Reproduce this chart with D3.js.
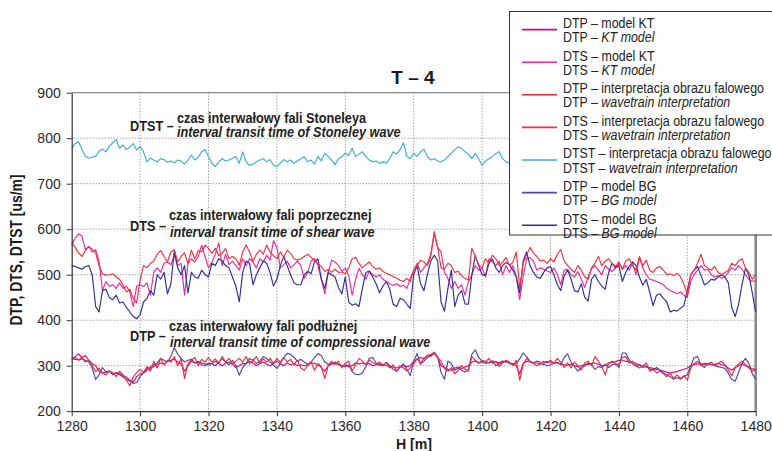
<!DOCTYPE html>
<html><head><meta charset="utf-8">
<script src="https://cdn.jsdelivr.net/npm/d3@7"></script>
<style>
body{margin:0;background:#fff}
svg{display:block}
text{font-family:"Liberation Sans",Arial,Helvetica,sans-serif}
</style>
</head><body>
<svg id="chart" width="772" height="451"></svg>
<script>
// ---------------- DATA ----------------
const depthStart = 1280;           // H [m] of first sample
const depthStep = 1;               // sampling step [m]
const xTicks = [1280,1300,1320,1340,1360,1380,1400,1420,1440,1460,1480];
const yTicks = [200,300,400,500,600,700,800,900];

const dtsKT = [
565,580,590,585,555,562,550,555,530,465,
485,474,478,470,482,470,475,462,430,475,
478,474,482,455,505,515,505,525,528,522,
543,520,525,455,525,535,528,540,565,540,
515,528,545,570,520,545,522,530,520,510,
535,520,535,528,515,535,528,543,532,575,
560,515,522,530,515,522,530,520,492,505,
530,536,520,490,458,505,532,528,520,508,
514,498,455,490,514,500,490,508,500,495,
500,490,485,480,477,480,474,477,470,492,
510,525,505,515,525,545,590,560,550,505,
492,470,485,470,478,455,485,499,520,510,
514,495,535,528,520,530,500,520,505,520,
495,445,495,535,538,530,510,515,512,508,
505,515,500,478,510,512,500,495,507,490,
472,495,513,520,510,500,520,512,507,515,
525,512,520,510,525,500,538,515,500,490,
488,485,482,478,470,465,462,458,462,455,
450,485,500,510,520,510,512,500,495,498,
492,495,505,515,510,520,512,500,490,485,
488];

const dtsWave = [
572,560,548,540,553,562,556,548,520,502,
499,500,502,495,490,478,462,468,448,438,
488,520,515,525,530,545,553,540,528,550,
555,528,540,548,525,554,535,553,550,565,
558,547,558,542,547,558,535,540,535,521,
550,565,550,530,545,554,545,565,550,542,
535,550,538,554,547,535,532,535,540,545,
538,530,525,518,507,512,505,512,505,506,
502,515,535,538,525,515,522,528,518,512,
515,507,503,500,496,492,488,485,492,485,
510,520,532,528,520,540,595,560,515,512,
525,520,505,508,498,492,488,558,540,522,
515,535,525,543,535,520,527,538,520,527,
550,470,525,543,560,548,540,530,532,525,
535,528,545,555,530,520,512,505,520,510,
495,490,515,525,540,520,530,535,525,518,
528,512,530,535,520,510,540,520,532,510,
505,515,518,510,500,502,498,503,495,480,
455,500,510,525,545,520,515,510,518,505,
500,505,510,525,520,530,535,515,505,490,
500];

const dtsBG = [
520,518,515,512,518,520,500,430,418,465,
468,450,445,455,438,440,428,418,408,403,
412,440,448,465,455,500,490,505,458,480,
552,515,500,520,460,505,495,492,510,500,
495,525,520,535,530,520,515,495,475,440,
505,530,525,478,500,515,530,525,505,475,
490,520,540,520,500,482,478,478,500,507,
502,528,535,490,470,505,500,495,472,458,
495,440,433,436,430,470,505,508,495,480,
460,475,485,468,435,430,448,445,435,426,
500,520,480,465,500,530,543,530,440,420,
470,510,430,455,465,436,435,500,542,520,
500,498,525,535,515,505,520,527,522,510,
495,460,530,550,520,505,495,492,505,515,
518,500,478,465,497,510,490,465,462,480,
450,442,490,500,485,475,468,505,525,515,
520,485,505,518,528,520,495,477,490,462,
432,455,458,448,440,418,422,420,426,432,
465,500,510,518,498,478,482,490,488,495,
500,495,482,428,408,435,478,514,500,460,
418];

const dtpKT = [
314,320,326,318,322,312,305,300,288,284,
286,288,281,285,283,278,275,268,264,276,
282,284,290,294,298,302,306,304,310,312,
314,308,304,288,300,310,306,307,302,300,
306,304,310,305,300,306,308,303,296,300,
305,304,310,306,300,305,308,303,300,304,
310,304,300,306,302,305,300,302,300,302,
306,305,302,296,288,300,304,305,303,300,
302,297,300,306,304,306,303,305,300,302,
304,303,300,298,297,295,298,300,298,300,
310,314,318,316,322,325,327,318,300,296,
292,290,295,297,294,297,300,308,310,307,
308,310,306,310,308,307,310,308,306,304,
300,282,305,310,308,306,310,308,306,309,
308,306,307,304,302,301,303,300,298,300,
302,303,305,306,303,300,302,306,307,309,
312,311,310,308,308,305,302,300,297,296,
294,292,290,288,286,284,286,287,290,292,
295,300,303,304,305,302,304,302,303,305,
302,300,295,290,296,300,304,300,298,293,
292];

const dtpWave = [
316,318,312,318,308,312,300,287,295,283,
280,288,285,276,288,280,268,256,275,285,
292,285,298,288,310,295,316,302,312,308,
320,300,315,272,305,312,318,300,314,308,
318,308,315,305,320,308,316,305,310,316,
308,320,304,312,320,305,315,308,316,305,
316,308,318,308,314,303,312,295,290,300,
308,290,305,298,272,300,310,303,310,295,
306,310,288,302,316,310,303,312,307,303,
308,300,307,295,302,287,298,295,288,295,
303,316,305,316,323,320,328,318,310,294,
288,296,282,290,300,292,288,320,312,305,
312,308,316,305,310,298,306,312,308,300,
312,268,302,316,310,305,300,304,310,306,
312,305,316,308,296,306,295,308,300,290,
306,310,300,320,310,298,280,306,310,305,
302,318,320,306,310,300,295,300,306,288,
292,284,288,282,276,283,272,280,272,278,
268,295,305,310,300,306,303,308,300,305,
310,302,290,278,296,304,310,303,295,288,
290];

const dtpBG = [
316,314,313,315,312,308,295,270,280,296,
286,288,280,284,280,275,270,266,261,263,
276,285,294,297,302,306,316,312,308,320,
340,325,316,308,312,314,306,310,306,304,
302,305,300,308,315,308,302,312,300,279,
296,305,316,312,305,310,320,316,308,302,
294,305,318,327,325,318,310,314,308,303,
308,318,327,322,308,303,305,308,302,300,
297,302,287,281,280,284,298,316,318,306,
301,300,307,300,292,288,297,304,292,278,
310,327,303,310,318,323,330,320,285,270,
310,305,290,295,290,286,292,325,335,318,
310,305,307,310,300,304,307,310,305,303,
305,315,328,320,310,306,306,304,303,300,
302,305,307,302,318,326,308,298,288,296,
299,306,302,292,298,296,302,296,302,304,
296,328,328,312,304,299,302,296,299,293,
290,296,290,284,280,276,270,274,270,276,
280,300,318,320,302,296,305,303,300,298,
296,294,283,270,266,285,305,316,305,282,
270];

// Stoneley (visible part, the rest lies under the legend box)
const dtstWave = [
778,788,792,775,760,756,758,760,772,776,
770,782,790,797,778,785,775,780,788,774,
782,770,748,756,752,748,755,753,747,750,
746,752,750,743,752,763,752,758,770,775,
760,745,738,748,755,750,752,756,760,745,
770,748,740,743,748,752,755,748,753,740,
738,745,753,748,752,745,750,755,759,748,
752,743,760,750,767,760,752,742,755,760,
767,762,778,760,765,770,760,752,748,750,
745,748,745,755,770,765,775,790,760,755,
767,760,770,776,760,752,755,750,748,752,
760,767,775,781,778,770,765,755,767,755,
740,750,755,760,766,770,755,748,745];

const legendPL = ["DTP – model KT","DTS – model KT","DTP – interpretacja obrazu falowego","DTS – interpretacja obrazu falowego","DTST – interpretacja obrazu falowego","DTP – model BG","DTS – model BG"];
const legendPrefixEN = ["DTP – ","DTS – ","DTP – ","DTS – ","DTST – ","DTP – ","DTS – "];
const legendItalicEN = ["KT model","KT model","wavetrain interpretation","wavetrain interpretation","wavetrain interpretation","BG model","BG model"];
const legendColors = ["#d9087a","#f0289e","#ef2a3a","#f5303c","#3aaed6","#4a4aa6","#2e2e98"];

// ---------------- LAYOUT ----------------
const svg = d3.select("#chart");
const X0 = 71.7, X1 = 755.7, Y0 = 92.7, Y1 = 411.2;
const x = d3.scaleLinear().domain([1280,1480]).range([X0,X1]);
const y = d3.scaleLinear().domain([200,900]).range([Y1,Y0]);

// grid
const grid = svg.append("g");
grid.selectAll("line.v").data(xTicks.slice(1,-1)).join("line")
  .attr("x1",d=>x(d)).attr("x2",d=>x(d)).attr("y1",Y0).attr("y2",Y1)
  .attr("stroke","#7a7a7a").attr("stroke-width",1).attr("stroke-dasharray","1,2");
grid.selectAll("line.h").data(yTicks.slice(1,-1)).join("line")
  .attr("x1",X0).attr("x2",X1).attr("y1",d=>y(d)).attr("y2",d=>y(d))
  .attr("stroke","#7a7a7a").attr("stroke-width",1).attr("stroke-dasharray","1,2");
// frame top/right
svg.append("line").attr("x1",X0).attr("x2",X1).attr("y1",y(900)).attr("y2",y(900))
  .attr("stroke","#8a8a8a").attr("stroke-width",1.2);
svg.append("line").attr("x1",x(1480)).attr("x2",x(1480)).attr("y1",Y0).attr("y2",Y1)
  .attr("stroke","#8a8a8a").attr("stroke-width",2.6);

// series
const line = d3.line().x((d,i)=>x(depthStart+i*depthStep)).y(d=>y(d));
const series = [
  [dtpKT, legendColors[0]], [dtsKT, legendColors[1]],
  [dtstWave, legendColors[4]],
  [dtpBG, legendColors[5]], [dtsBG, legendColors[6]],
  [dtpWave, legendColors[2]], [dtsWave, legendColors[3]]
];
const plot = svg.append("g");
series.forEach(([data,col])=>{
  plot.append("path").datum(data).attr("d",line)
    .attr("fill","none").attr("stroke",col).attr("stroke-width",1.15)
    .attr("stroke-linejoin","round");
});

// axes
const ax = svg.append("g").attr("transform",`translate(${X0},0)`)
  .call(d3.axisLeft(y).tickValues(yTicks).tickFormat(d3.format("d")).tickSize(5).tickSizeOuter(0).tickPadding(6));
const bx = svg.append("g").attr("transform",`translate(0,${Y1})`)
  .call(d3.axisBottom(x).tickValues(xTicks).tickFormat(d3.format("d")).tickSize(5).tickSizeOuter(0).tickPadding(5));
[ax,bx].forEach(a=>{
  a.selectAll("path").attr("stroke","#333").attr("stroke-width",1.2);
  a.selectAll("line").attr("stroke","#333");
  a.selectAll("text").attr("font-size",14).attr("fill","#2a2a2a")
    .attr("font-family","'Liberation Sans',Arial,sans-serif");
});

// helper for condensed text
function ctext(x0,y0,k,parts,opt){
  const g = svg.append("g").attr("transform",`translate(${x0},${y0}) scale(${k},1)`);
  const t = g.append("text").attr("x",0).attr("y",0)
    .attr("font-size",opt.size).attr("font-weight",opt.weight||"normal")
    .attr("fill",opt.fill||"#222").attr("text-anchor",opt.anchor||"start");
  parts.forEach(p=>t.append("tspan").text(p.t).attr("font-style",p.i?"italic":null));
  return t;
}

// title
ctext(413,84,1,[{t:"T – 4"}],{size:19,weight:"bold",anchor:"middle",fill:"#1a1a1a"});

// axis titles
svg.append("g").attr("transform","translate(22,250) rotate(-90) scale(0.87,1)")
  .append("text").attr("text-anchor","middle").attr("font-size",16).attr("font-weight","bold")
  .attr("fill","#1a1a1a").text("DTP, DTS, DTST [us/m]");
ctext(396,448.5,0.94,[{t:"H [m]"}],{size:15,weight:"bold",fill:"#1a1a1a"});

// annotations
const annK = 0.87, annOpt = {size:14.6,weight:"bold",fill:"#222"};
ctext(130,130.5,annK,[{t:"DTST –"}],annOpt);
ctext(177,122.5,annK,[{t:"czas interwałowy fali Stoneleya"}],annOpt);
ctext(177,137.3,annK,[{t:"interval transit time of Stoneley wave",i:true}],annOpt);
ctext(130,231,annK,[{t:"DTS –"}],annOpt);
ctext(169,220,annK,[{t:"czas interwałowy fali poprzecznej"}],annOpt);
ctext(170,237,annK,[{t:"interval transit time of shear wave",i:true}],annOpt);
ctext(130,340.5,annK,[{t:"DTP –"}],annOpt);
ctext(169,331,annK,[{t:"czas interwałowy fali podłużnej"}],annOpt);
ctext(170,346.5,annK,[{t:"interval transit time of compressional wave",i:true}],annOpt);

// legend
svg.append("rect").attr("x",509.5).attr("y",11.5).attr("width",280).attr("height",223.5)
  .attr("fill","#fff").attr("stroke","#333").attr("stroke-width",1);
legendPL.forEach((pl,i)=>{
  const b = 28 + 32.6*i;
  svg.append("line").attr("x1",522).attr("x2",557).attr("y1",b+1.6).attr("y2",b+1.6)
    .attr("stroke",legendColors[i]).attr("stroke-width",1.6);
  ctext(563,b,0.85,[{t:pl}],{size:14.6,fill:"#222"});
  ctext(563,b+14.2,0.85,[{t:legendPrefixEN[i]},{t:legendItalicEN[i],i:true}],{size:14.6,fill:"#222"});
});
</script>
</body></html>
